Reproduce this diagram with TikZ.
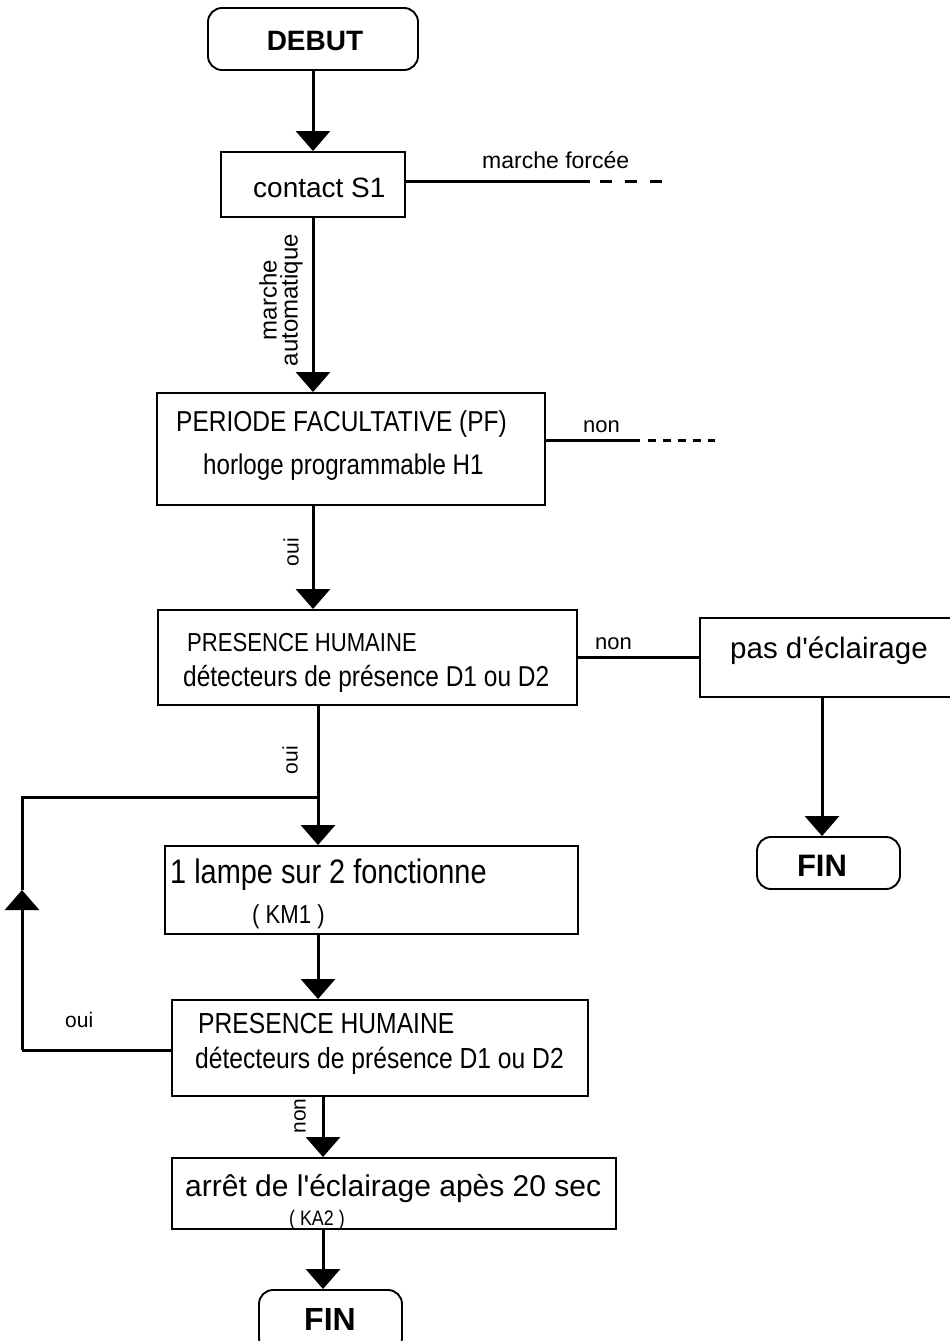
\documentclass[tikz,border=0pt]{standalone}
\usepackage{fontspec}
\setmainfont{Liberation Sans}
\newfontfamily\narrowfont[FakeStretch=0.85]{Liberation Sans}
\usetikzlibrary{arrows.meta}

\tikzset{
  box/.style={draw, line width=1.9pt, inner sep=0pt},
  endbox/.style={box, rounded corners=14pt},
  txt/.style={inner sep=0pt, anchor=base west},
  vtxt/.style={inner sep=0pt, rotate=90, align=center},
  flow/.style={line width=3pt, -{Triangle[width=34pt,length=20pt]}},
  link/.style={line width=3pt},
}
\newcommand{\fs}[1]{\fontsize{#1}{#1}\selectfont}
\newcommand{\nfs}[1]{\narrowfont\fontsize{#1}{#1}\selectfont}

\begin{document}
\begin{tikzpicture}[x=1pt,y=-1pt]
\useasboundingbox (0,0) rectangle (950,1341);

% boxes
\node[endbox, minimum width=210pt, minimum height=62pt] (DEB) at (313,39) {};
\node[box, minimum width=184pt, minimum height=65pt] (S1) at (313,184.5) {};
\node[box, minimum width=388pt, minimum height=112pt] (PF) at (351,449) {};
\node[box, minimum width=419pt, minimum height=95pt] (P1) at (367.5,657.5) {};
\node[box, minimum width=265pt, minimum height=79pt] (NOL) at (832.5,657.5) {};
\node[endbox, minimum width=143pt, minimum height=52pt] (FIN1) at (828.5,863) {};
\node[box, minimum width=413pt, minimum height=88pt] (LAMP) at (371.5,890) {};
\node[box, minimum width=416pt, minimum height=96pt] (P2) at (380,1048) {};
\node[box, minimum width=444pt, minimum height=71pt] (ARR) at (394,1193.5) {};
\node[endbox, minimum width=143pt, minimum height=62pt] (FIN2) at (330.5,1321) {};

% texts
\node[txt, anchor=base, font=\fs{28}\bfseries] (DEBt) at (315,50) {DEBUT};
\node[txt, font=\fs{28}] (S1t) at (253,197) {contact S1};
\node[txt, font=\fs{23}] (MFt) at (482,168) {marche forcée};
\node[vtxt, font=\fontsize{24}{21}\selectfont] (MAt) at (281,300) {marche\\automatique};
\node[txt, font=\nfs{28.8}] (PFa) at (176,431) {PERIODE FACULTATIVE (PF)};
\node[txt, font=\nfs{28.4}] (PFb) at (203,474) {horloge programmable H1};
\node[txt, font=\fs{22}] (PFn) at (583,432) {non};
\node[vtxt, font=\fs{21}] (PFo) at (291,552) {oui};
\node[txt, font=\nfs{26}] (P1a) at (187,651) {PRESENCE HUMAINE};
\node[txt, font=\nfs{28.8}] (P1b) at (183,686) {détecteurs de présence D1 ou D2};
\node[txt, font=\fs{22}] (P1n) at (595,649) {non};
\node[vtxt, font=\fs{21}] (P1o) at (290,760) {oui};
\node[txt, font=\fs{29.5}] (NOLt) at (730,658) {pas d\textquotesingle éclairage};
\node[txt, anchor=base, font=\fs{31}\bfseries] (FIN1t) at (822,876) {FIN};
\node[txt, font=\nfs{34}] (LAMPa) at (170,883) {1 lampe sur 2 fonctionne};
\node[txt, font=\nfs{26}] (LAMPb) at (252,923) {( KM1 )};
\node[txt, font=\nfs{29}] (P2a) at (198,1033) {PRESENCE HUMAINE};
\node[txt, font=\nfs{29}] (P2b) at (195,1068) {détecteurs de présence D1 ou D2};
\node[txt, font=\fs{21}] (P2o) at (65,1027) {oui};
\node[vtxt, font=\fs{21}] (P2n) at (300,1116) {non};
\node[txt, font=\fs{30}] (ARRa) at (185,1196) {arrêt de l\textquotesingle éclairage apès 20 sec};
\node[txt, font=\nfs{21}] (ARRb) at (289,1225) {( KA2 )};
\node[txt, anchor=base, font=\fs{32}\bfseries] (FIN2t) at (330,1330) {FIN};

% columns and free ends
\coordinate (c1) at (313,0);
\coordinate (c2) at (318,0);
\coordinate (c3) at (323,0);
\coordinate (c4) at (822,0);
\coordinate (MF1) at (590,181);
\coordinate (MF2) at (600,181);
\coordinate (MF3) at (662,181);
\coordinate (NF1) at (640,440);
\coordinate (NF2) at (648,440);
\coordinate (NF3) at (715,440);
\coordinate (J) at (318,797);
\coordinate (LA) at (22,1050);
\coordinate (LM) at (22,890);
\coordinate (LB) at (22,797);

% connectors
\draw[flow] (DEB.south -| c1) -- (S1.north -| c1);
\draw[flow] (S1.south -| c1) -- (PF.north -| c1);
\draw[flow] (PF.south -| c1) -- (P1.north -| c1);
\draw[flow] (P1.south -| c2) -- (LAMP.north -| c2);
\draw[flow] (LAMP.south -| c2) -- (P2.north -| c2);
\draw[flow] (P2.south -| c3) -- (ARR.north -| c3);
\draw[flow] (ARR.south -| c3) -- (FIN2.north -| c3);
\draw[flow] (NOL.south -| c4) -- (FIN1.north -| c4);

\draw[link] (S1.east |- MF1) -- (MF1);
\draw[link, dash pattern=on 12pt off 13pt] (MF2) -- (MF3);
\draw[link] (PF.east |- NF1) -- (NF1);
\draw[link, dash pattern=on 8pt off 7pt] (NF2) -- (NF3);
\draw[link] (P1.east) -- (NOL.west);

% loop back
\draw[link] (P2.west |- LA) -- (LA);
\draw[flow] (LA) -- (LM);
\draw[link] (LM) -- (LB) -- (J);
\end{tikzpicture}
\end{document}
